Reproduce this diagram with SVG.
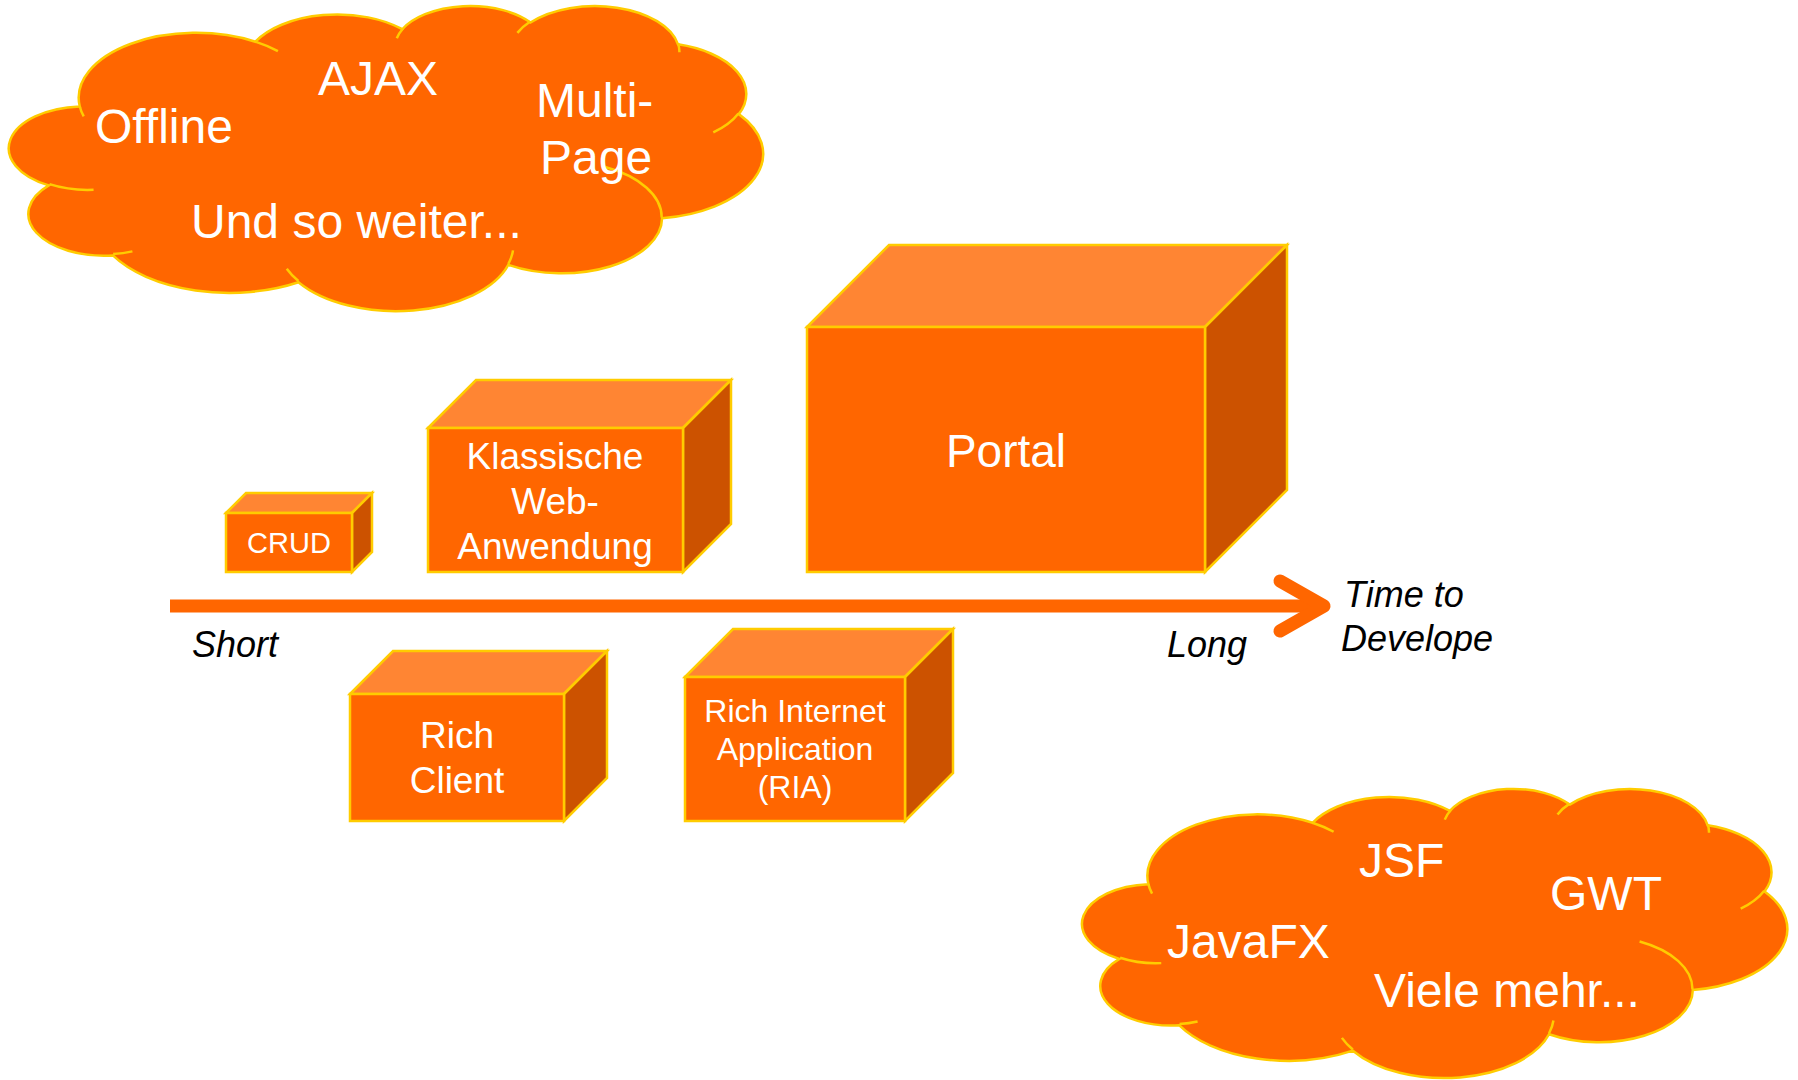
<svg xmlns="http://www.w3.org/2000/svg" width="1798" height="1080" viewBox="0 0 1798 1080">
<style>
.cl{fill:#FF6600;stroke:#FFCC00;stroke-width:2.5;vector-effect:non-scaling-stroke}
.ci{fill:none;stroke:#FFCC00;stroke-width:2.5;vector-effect:non-scaling-stroke}
.fr{fill:#FF6600;stroke:#FFCC00;stroke-width:2.5;stroke-linejoin:miter}
.tp{fill:#FF8533;stroke:#FFCC00;stroke-width:2.5;stroke-linejoin:miter}
.sd{fill:#CC5200;stroke:#FFCC00;stroke-width:2.5;stroke-linejoin:miter}
.w{font-family:"Liberation Sans",Arial,sans-serif;fill:#FFFFFF}
.c{text-anchor:middle}
.k{font-family:"Liberation Sans",Arial,sans-serif;font-style:italic;fill:#000000;font-size:36px}
</style>

<g id="cloud-features">
<g transform="translate(12,5) scale(1.738,0.706)">
<path class="cl" d="M39,143.7 A67.53,91.90 0 0 1 140.05,52.02 A53.33,72.67 0 0 1 224.56,34.30 A43.65,59.45 0 0 1 298.33,24.79 A48.57,65.95 0 0 1 383.18,55.75 A53.33,72.73 0 0 1 418.19,154.58 A67.75,92.20 0 0 1 374.05,302.02 A57.85,78.67 0 0 1 285.56,368.12 A67.52,92.15 0 0 1 164.82,392.66 A77.20,105.43 0 0 1 58.06,354.74 A43.60,59.18 0 0 1 21.16,255.52 A43.45,59.45 0 0 1 39,143.7 Z"/>
<path class="ci" d="M46.93,261.77 A43.45,59.45 0 0 1 21.59,253.80 M69.28,348.99 A43.6,59.18 0 0 1 58.19,352.81 M164.78,390.90 A67.52,92.15 0 0 1 158.09,373.47 M288.27,347.51 A67.52,92.15 0 0 1 285.60,366.60 M341.29,229.54 A57.85,78.67 0 0 1 373.80,300.90 M417.98,153.54 A53.33,72.73 0 0 1 403.50,180.30 M383.24,54.26 A48.57,65.95 0 0 1 384.00,66.90 M290.78,39.52 A48.57,65.95 0 0 1 298.20,23.39 M221.41,47.20 A43.65,59.45 0 0 1 225.00,33.30 M140.00,51.92 A67.53,91.90 0 0 1 153.00,65.41 M41.27,157.89 A67.53,91.90 0 0 1 39.00,143.70"/>
</g>
<text class="w" font-size="48" x="318" y="95">AJAX</text>
<text class="w" font-size="48" x="95" y="143">Offline</text>
<text class="w" font-size="48" x="536" y="117">Multi-</text>
<text class="w" font-size="48" x="540" y="174">Page</text>
<text class="w" font-size="48" x="191" y="238">Und so weiter...</text>
</g>

<g id="cloud-frameworks">
<g transform="translate(1085,788) scale(1.625,0.669)">
<path class="cl" d="M39,143.7 A67.53,91.90 0 0 1 140.05,52.02 A53.33,72.67 0 0 1 224.56,34.30 A43.65,59.45 0 0 1 298.33,24.79 A48.57,65.95 0 0 1 383.18,55.75 A53.33,72.73 0 0 1 418.19,154.58 A67.75,92.20 0 0 1 374.05,302.02 A57.85,78.67 0 0 1 285.56,368.12 A67.52,92.15 0 0 1 164.82,392.66 A77.20,105.43 0 0 1 58.06,354.74 A43.60,59.18 0 0 1 21.16,255.52 A43.45,59.45 0 0 1 39,143.7 Z"/>
<path class="ci" d="M46.93,261.77 A43.45,59.45 0 0 1 21.59,253.80 M69.28,348.99 A43.6,59.18 0 0 1 58.19,352.81 M164.78,390.90 A67.52,92.15 0 0 1 158.09,373.47 M288.27,347.51 A67.52,92.15 0 0 1 285.60,366.60 M341.29,229.54 A57.85,78.67 0 0 1 373.80,300.90 M417.98,153.54 A53.33,72.73 0 0 1 403.50,180.30 M383.24,54.26 A48.57,65.95 0 0 1 384.00,66.90 M290.78,39.52 A48.57,65.95 0 0 1 298.20,23.39 M221.41,47.20 A43.65,59.45 0 0 1 225.00,33.30 M140.00,51.92 A67.53,91.90 0 0 1 153.00,65.41 M41.27,157.89 A67.53,91.90 0 0 1 39.00,143.70"/>
</g>
<text class="w" font-size="48" x="1359" y="877">JSF</text>
<text class="w" font-size="48" x="1550" y="910">GWT</text>
<text class="w" font-size="48" x="1167" y="958">JavaFX</text>
<text class="w" font-size="48" x="1374" y="1007">Viele mehr...</text>
</g>

<g id="connectors">
<line x1="170" y1="606" x2="1318" y2="606" stroke="#FF6600" stroke-width="13"/>
<polyline points="1280,581 1324,606 1280,631" fill="none" stroke="#FF6600" stroke-width="13" stroke-linecap="round" stroke-linejoin="round"/>
</g>

<g id="box-crud">
<polygon class="tp" points="226,513 246,493 372,493 352,513"/>
<polygon class="sd" points="352,513 372,493 372,552 352,572"/>
<rect class="fr" x="226" y="513" width="126" height="59"/>
<text class="w c" font-size="29" x="289" y="553">CRUD</text>
</g>

<g id="box-klassische">
<polygon class="tp" points="428,428 476,380 731,380 683,428"/>
<polygon class="sd" points="683,428 731,380 731,524 683,572"/>
<rect class="fr" x="428" y="428" width="255" height="144"/>
<text class="w c" font-size="37" x="555" y="469">Klassische</text>
<text class="w c" font-size="37" x="555" y="514">Web-</text>
<text class="w c" font-size="37" x="555" y="559">Anwendung</text>
</g>

<g id="box-portal">
<polygon class="tp" points="807,327 889,245 1287,245 1205,327"/>
<polygon class="sd" points="1205,327 1287,245 1287,490 1205,572"/>
<rect class="fr" x="807" y="327" width="398" height="245"/>
<text class="w c" font-size="46" x="1006" y="467">Portal</text>
</g>

<g id="box-rich-client">
<polygon class="tp" points="350,694 393,651 607,651 564,694"/>
<polygon class="sd" points="564,694 607,651 607,778 564,821"/>
<rect class="fr" x="350" y="694" width="214" height="127"/>
<text class="w c" font-size="37" x="457" y="748">Rich</text>
<text class="w c" font-size="37" x="457" y="793">Client</text>
</g>

<g id="box-ria">
<polygon class="tp" points="685,677 733,629 953,629 905,677"/>
<polygon class="sd" points="905,677 953,629 953,773 905,821"/>
<rect class="fr" x="685" y="677" width="220" height="144"/>
<text class="w c" font-size="32" x="795" y="722">Rich Internet</text>
<text class="w c" font-size="32" x="795" y="760">Application</text>
<text class="w c" font-size="32" x="795" y="798">(RIA)</text>
</g>

<g id="axis-labels">
<text class="k" x="192" y="657">Short</text>
<text class="k" x="1167" y="657">Long</text>
<text class="k" x="1344" y="607">Time to</text>
<text class="k" x="1341" y="651">Develope</text>
</g>
</svg>
